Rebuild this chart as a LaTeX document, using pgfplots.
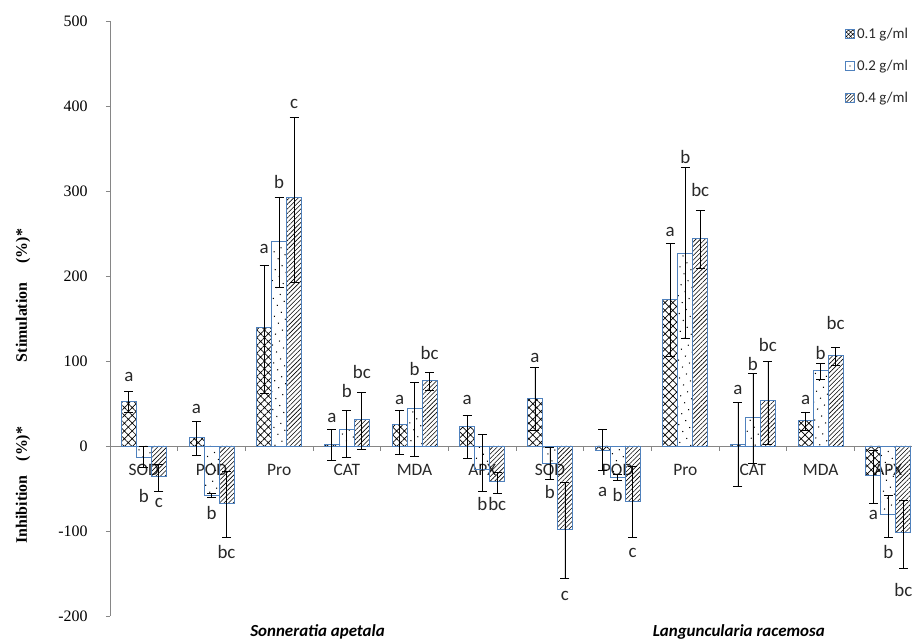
\documentclass[border=0pt]{standalone}
\usepackage{fontspec}
\setmainfont{Carlito}
\newfontfamily\serif{Liberation Serif}
\usepackage{pgfplots}
\pgfplotsset{compat=1.18}
\usepackage{pgfplotstable}
\usetikzlibrary{patterns.meta}
\definecolor{barblue}{RGB}{79,129,189}
\definecolor{axisgray}{RGB}{134,134,134}
\definecolor{txt}{RGB}{40,40,40}

\pgfplotstableread{
x y ep em
0 52 12 13
1 10 19 21
2 139 74 77
3 2 17 19
4 25 16.5 34.5
5 23.5 13 38.5
6 56 36 38
7 -5 24 24
8 172 66 67
9 2 49 50
10 30 10 12
11 -35 30 32
}\dataA
\pgfplotstableread{
x y ep em
0 -13 12 12
1 -58 2 2
2 241 52 54
3 20 22 33
4 44 30.5 56.5
5 -28 42 26
6 -20 18 19
7 -37 4 3
8 227 101 100
9 34 51 54
10 89 8 11
11 -81 23 26
}\dataB
\pgfplotstableread{
x y ep em
0 -36 14 18
1 -68 38 39
2 292 95 99
3 31 32 34.5
4 77 10 12
5 -42 11 14
6 -98 55 58
7 -65 41 43
8 244 33 35
9 53 46 51
10 107 9 12
11 -102 38 42
}\dataC

\begin{document}
\begin{tikzpicture}
\begin{axis}[
  name=ax,
  scale only axis,
  width=802bp, height=595bp,
  xmin=-0.5, xmax=11.35,
  ymin=-200, ymax=500,
  clip=false,
  axis x line=middle, axis y line=left,
  axis line style={-, draw=axisgray, line width=0.8bp},
  every tick/.style={axisgray, line width=0.8bp},
  tick align=outside,
  ytick={-200,-100,...,500},
  major tick length=4bp,
  minor tick length=5bp,
  xtick={0,...,11},
  xticklabels={SOD,POD,Pro,CAT,MDA,APX,SOD,POD,Pro,CAT,MDA,APX},
  major x tick style={draw=none},
  minor xtick={0.5,1.5,...,10.5},
  x tick label style={font=\fontsize{17.5}{17.5}\selectfont, text=txt, yshift=-11bp},
  y tick label style={font=\serif\fontsize{16}{16}\selectfont, text=black, xshift=-15bp},
  /pgf/number format/assume math mode=true,
  ybar=0pt, bar width=15bp,
  legend style={at={(axis cs:10.36,494)}, anchor=north west, draw=none, fill=none,
    font=\fontsize{15}{17}\selectfont, row sep=16bp, inner sep=0pt, text=txt},
  legend cell align=left,
  error bars/error bar style={black, line width=0.8bp, solid},
  error bars/error mark options={rotate=90, black, mark size=4.5bp, line width=0.8bp},
]
\addplot[draw=barblue, line width=0.9bp, pattern={Hatch[angle=45,distance=5.5bp,line width=0.7bp]}, pattern color=black,
  legend image code/.code={\draw[draw=barblue, pattern={Hatch[angle=45,distance=3bp,line width=0.5bp]}, pattern color=black] (0bp,-4.5bp) rectangle (9bp,4.5bp);},
  error bars/.cd, y dir=both, y explicit]
  table[x=x, y=y, y error plus=ep, y error minus=em] {\dataA};
\addlegendentry{0.1 g/ml}
\addplot[draw=barblue, line width=0.9bp, pattern={Dots[distance=8bp,radius=0.75bp,angle=30]}, pattern color=black,
  legend image code/.code={\draw[draw=barblue, pattern={Dots[distance=5bp,radius=0.6bp]}, pattern color=black] (0bp,-4.5bp) rectangle (9bp,4.5bp);},
  error bars/.cd, y dir=both, y explicit]
  table[x=x, y=y, y error plus=ep, y error minus=em] {\dataB};
\addlegendentry{0.2 g/ml}
\addplot[draw=barblue, line width=0.9bp, pattern={Lines[angle=45,distance=3.2bp,line width=0.6bp]}, pattern color=black,
  legend image code/.code={\draw[draw=barblue, pattern={Lines[angle=45,distance=2.5bp,line width=0.5bp]}, pattern color=black] (0bp,-4.5bp) rectangle (9bp,4.5bp);},
  error bars/.cd, y dir=both, y explicit]
  table[x=x, y=y, y error plus=ep, y error minus=em] {\dataC};
\addlegendentry{0.4 g/ml}

% significance letters
\tikzset{lab/.style={font=\fontsize{19}{19}\selectfont, text=txt, inner sep=0pt}}
\def\o{0.2216}
\node[lab] at (axis cs:{0-\o},81) {a};
\node[lab] at (axis cs:0,-59) {b};
\node[lab] at (axis cs:{0+\o},-67) {c};
\node[lab] at (axis cs:{1-\o},43) {a};
\node[lab] at (axis cs:1,-79) {b};
\node[lab] at (axis cs:{1+\o},-125) {bc};
\node[lab] at (axis cs:{2-\o},232) {a};
\node[lab] at (axis cs:2,311) {b};
\node[lab] at (axis cs:{2+\o},402) {c};
\node[lab] at (axis cs:{3-\o},33) {a};
\node[lab] at (axis cs:3,65) {b};
\node[lab] at (axis cs:{3+\o},87) {bc};
\node[lab] at (axis cs:{4-\o},54) {a};
\node[lab] at (axis cs:4,90) {b};
\node[lab] at (axis cs:{4+\o},109) {bc};
\node[lab] at (axis cs:{5-\o},54) {a};
\node[lab] at (axis cs:5,-68) {b};
\node[lab] at (axis cs:{5+\o},-68) {bc};
\node[lab] at (axis cs:{6-\o},104) {a};
\node[lab] at (axis cs:6,-54) {b};
\node[lab] at (axis cs:{6+\o},-177) {c};
\node[lab] at (axis cs:{7-\o},-54) {a};
\node[lab] at (axis cs:7,-58) {b};
\node[lab] at (axis cs:{7+\o},-126) {c};
\node[lab] at (axis cs:{8-\o},252) {a};
\node[lab] at (axis cs:8,340) {b};
\node[lab] at (axis cs:{8+\o},301) {bc};
\node[lab] at (axis cs:{9-\o},66) {a};
\node[lab] at (axis cs:9,96) {b};
\node[lab] at (axis cs:{9+\o},119) {bc};
\node[lab] at (axis cs:{10-\o},54) {a};
\node[lab] at (axis cs:10,109) {b};
\node[lab] at (axis cs:{10+\o},145) {bc};
\node[lab] at (axis cs:{11-\o},-81) {a};
\node[lab] at (axis cs:11,-125) {b};
\node[lab] at (axis cs:{11+\o},-169) {bc};

% axis titles
\node[rotate=90, font=\serif\bfseries\fontsize{16}{16}\selectfont, inner sep=0pt] at (axis cs:-1.785,177) {Stimulation\hspace{19bp}(\%)*};
\node[rotate=90, font=\serif\bfseries\fontsize{16}{16}\selectfont, inner sep=0pt] at (axis cs:-1.785,-46) {Inhibition\hspace{14bp}(\%)*};
\node[font=\bfseries\itshape\fontsize{17}{17}\selectfont, text=black, inner sep=0pt] at (axis cs:2.566,-219) {Sonneratia apetala};
\node[font=\bfseries\itshape\fontsize{17}{17}\selectfont, text=black, inner sep=0pt] at (axis cs:8.79,-219) {Languncularia racemosa};
\end{axis}
\pgfresetboundingbox
\path[use as bounding box] ([xshift=-110bp,yshift=-25bp]ax.south west) rectangle ([yshift=21bp]ax.north east);
\end{tikzpicture}
\end{document}
